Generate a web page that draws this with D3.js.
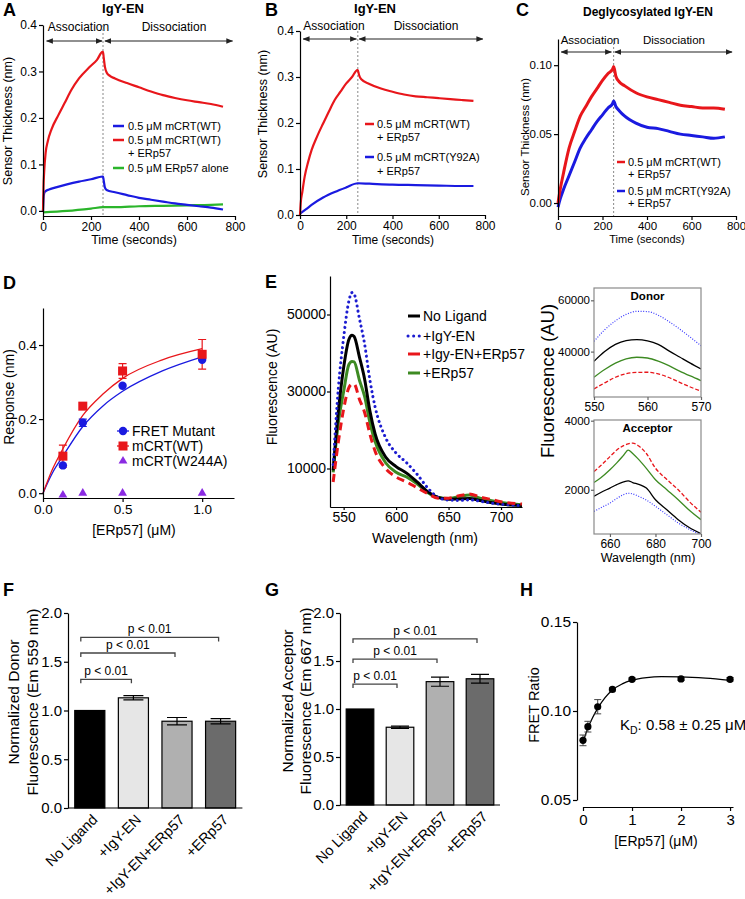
<!DOCTYPE html>
<html><head><meta charset="utf-8">
<script src="https://cdn.jsdelivr.net/npm/d3@7"></script>
<style>body{margin:0;background:#fff}svg{display:block}</style>
</head><body><svg id="c" width="745" height="899"></svg>
<script>
const FONT = "'Liberation Sans', Arial, Helvetica, sans-serif";
// ---------- DATA ----------
// Panel A (IgY-EN)
const aRedT = [0,2,5,11,20,35,63,90,118,150,195,225,248,250,253,258,265,280,300,350,400,450,500,550,600,650,700,750];
const aRedV = [0,0.05,0.085,0.125,0.15,0.175,0.205,0.232,0.26,0.285,0.31,0.325,0.342,0.342,0.33,0.31,0.298,0.29,0.285,0.275,0.266,0.257,0.249,0.243,0.238,0.234,0.23,0.224];
const aBlueT = [0,2,5,10,25,50,100,150,200,248,250,253,258,265,300,350,400,450,500,550,600,650,700,750];
const aBlueV = [0,0.025,0.038,0.042,0.046,0.05,0.057,0.063,0.068,0.074,0.074,0.065,0.05,0.045,0.04,0.034,0.028,0.024,0.02,0.016,0.013,0.01,0.007,0.003];
const aGreenT = [0,100,200,250,300,400,500,600,700,750];
const aGreenV = [-0.003,0,0.005,0.008,0.008,0.01,0.011,0.012,0.013,0.014];
// Panel B
const bRedT = [0,3,10,20,35,50,75,100,125,150,175,200,225,248,250,255,265,300,350,400,450,500,550,600,650,700,750];
const bRedV = [0,0.025,0.05,0.083,0.115,0.141,0.172,0.199,0.225,0.25,0.268,0.286,0.3,0.315,0.315,0.305,0.295,0.285,0.275,0.268,0.262,0.258,0.256,0.254,0.252,0.25,0.248];
const bBlueT = [0,25,50,100,150,200,250,300,400,500,600,700,750];
const bBlueV = [0.003,0.012,0.022,0.038,0.05,0.06,0.069,0.068,0.066,0.065,0.064,0.063,0.063];
// Panel C
const cT = [0,10,25,50,75,100,125,150,175,200,225,245,250,260,275,300,350,400,450,500,550,600,650,700,750];
const cRedV = [0,0.01,0.022,0.04,0.052,0.063,0.07,0.077,0.083,0.089,0.094,0.097,0.099,0.092,0.088,0.085,0.08,0.077,0.075,0.073,0.071,0.07,0.069,0.069,0.068];
const cBlueV = [-0.003,0.003,0.01,0.02,0.03,0.04,0.047,0.053,0.059,0.064,0.069,0.072,0.074,0.07,0.067,0.063,0.058,0.055,0.054,0.052,0.05,0.049,0.048,0.047,0.048];
// Panel D
const dConc = [0.125,0.25,0.5,1.0];
const dFret = [0.075,0.19,0.29,0.36];
const dFretErr = [0,0.01,0,0];
const dWT = [0.10,0.235,0.33,0.375];
const dWTErr = [0.03,0,0.02,0.04];
const dW244A = [-0.005,0,0,0];
const dFitX = [0,0.06,0.125,0.25,0.375,0.5,0.75,1.0];
const dFitWT = [0,0.065,0.12,0.21,0.267,0.31,0.36,0.39];
const dFitFret = [0,0.055,0.10,0.18,0.235,0.275,0.33,0.368];
// Panel E main spectra
const eWl = [540,545,550,555,558,560,565,570,575,580,590,600,610,620,630,640,650,660,670,680,690,700,710,720];
const eNoLig = [9500,25000,36200,43500,44600,44300,39000,33200,25000,19000,13000,10500,8800,6500,4000,2500,2000,2100,2200,1700,1150,750,500,400];
const eIgY = [11000,31000,44000,53500,55700,55300,49000,42300,33000,26000,18000,14000,11500,8500,5000,2500,1800,1700,1850,1500,1050,700,500,350];
const eIgYERp = [6500,17000,25450,31000,31900,31900,28000,24550,19000,14500,10000,7800,6500,5000,3500,2300,2300,2900,3350,2600,2000,1350,1000,750];
const eERp = [9000,22000,30000,37000,37800,37700,33000,28700,22000,17000,11500,9000,7800,6000,3800,2500,2200,2700,3100,2300,1700,1150,800,600];
const eLegend = ["No Ligand","+IgY-EN","+Igy-EN+ERp57","+ERp57"];
// Donor inset
const donWl = [550,552,554,556,558,560,562,564,566,568,570];
const donNoLig = [36200,40000,42800,44300,44700,44200,42800,40300,37900,35500,33200];
const donIgY = [44000,48500,52000,54500,55700,55600,54200,51700,48800,45600,42300];
const donIgYERp = [25450,27800,30000,31400,31900,31950,31300,29900,28000,26200,24550];
const donERp = [30000,33000,35500,37200,37800,37500,36300,34500,32400,30500,28700];
// Acceptor inset
const accWl = [653,656,660,663,666,668,670,673,676,680,685,690,695,700];
const accNoLig = [1810,1920,2050,2150,2230,2260,2210,2150,2050,1710,1420,1135,900,730];
const accIgY = [1375,1480,1615,1750,1860,1900,1880,1800,1700,1520,1280,1040,850,700];
const accIgYERp = [2530,2700,2960,3150,3280,3330,3350,3250,3050,2625,2300,2000,1650,1350];
const accERp = [2210,2350,2580,2780,3000,3150,3050,2850,2620,2290,2000,1710,1400,1135];
// Panels F, G
const barCats = ["No Ligand","+IgY-EN","+IgY-EN+ERp57","+ERp57"];
const fVals = [1.0,1.13,0.89,0.89];
const fErr = [0,0.022,0.038,0.027];
const gVals = [1.0,0.81,1.285,1.315];
const gErr = [0,0.012,0.048,0.045];
const fSig = [1.32,1.59,1.75];
const gSig = [1.26,1.52,1.73];
const sigLabel = "p < 0.01";
// Panel H
const hConc = [0,0.1,0.3,0.6,1,2,3];
const hRatio = [0.0835,0.0912,0.1024,0.1121,0.1178,0.118,0.1178];
const hErr = [0.003,0.003,0.004,0.0008,0.0008,0.0008,0.001];
const hFitX = [0,0.1,0.2,0.3,0.45,0.6,0.8,1,1.3,1.6,2,2.5,3];
const hFitY = [0.0825,0.0905,0.0965,0.1015,0.1075,0.1118,0.1152,0.1173,0.1188,0.1193,0.1192,0.1185,0.1172];

// ---------- HELPERS ----------
const svg = d3.select('#c');
const RED = '#e8161b', BLUE = '#1a1ae0', GREEN = '#2bb52b', EGREEN = '#3d8a22', PURPLE = '#8a2be2';

function styleAxis(a, fs){
  a.selectAll('path.domain').attr('stroke','#000').attr('stroke-width',1.2);
  a.selectAll('.tick line').attr('stroke','#000').attr('stroke-width',1.2);
  a.selectAll('text').attr('font-size',fs).attr('fill','#000').attr('font-family',FONT);
}
function yAxis(x0, y, ticks, fmt, fs, size=4, pad=2){
  const a = svg.append('g').attr('transform',`translate(${x0},0)`)
    .call(d3.axisLeft(y).tickValues(ticks).tickFormat(fmt).tickSize(size).tickSizeOuter(0).tickPadding(pad));
  styleAxis(a, fs); return a;
}
function xAxis(y0, x, ticks, fmt, fs, size=4, pad=2){
  const a = svg.append('g').attr('transform',`translate(0,${y0})`)
    .call(d3.axisBottom(x).tickValues(ticks).tickFormat(fmt).tickSize(size).tickSizeOuter(0).tickPadding(pad));
  styleAxis(a, fs); return a;
}
function text(x, y, s, fs, opts={}){
  const t = svg.append('text').attr('x',x).attr('y',y).text(s)
    .attr('font-family',FONT).attr('font-size',fs).attr('fill',opts.fill||'#000')
    .attr('text-anchor',opts.anchor||'start').attr('dominant-baseline',opts.base||'central');
  if(opts.bold) t.attr('font-weight','bold');
  return t;
}
function vtext(cx, cy, s, fs){
  return svg.append('text').attr('transform',`translate(${cx},${cy}) rotate(-90)`).text(s)
    .attr('font-family',FONT).attr('font-size',fs).attr('text-anchor','middle').attr('dominant-baseline','central');
}
function series(xs, ys){ return xs.map((d,i)=>[d, ys[i]]); }
function drawLine(data, x, y, color, w, dash, curve){
  const p = svg.append('path').datum(data)
    .attr('d', d3.line().x(d=>x(d[0])).y(d=>y(d[1])).curve(curve||d3.curveLinear))
    .attr('fill','none').attr('stroke',color).attr('stroke-width',w).attr('stroke-linejoin','round');
  if(dash){ p.attr('stroke-dasharray',dash); if(dash.startsWith('0.1')) p.attr('stroke-linecap','round'); }
  return p;
}
const defs = svg.append('defs');
defs.append('marker').attr('id','ah').attr('viewBox','0 0 10 10').attr('refX',9).attr('refY',5)
  .attr('markerWidth',7).attr('markerHeight',7).attr('markerUnits','userSpaceOnUse').attr('orient','auto-start-reverse')
  .append('path').attr('d','M0,1 L10,5 L0,9 Z').attr('fill','#222');

function kinetics(x, y, arrowY, textY, assoc, dissoc, assocC, dissocC, fs){
  [assoc, dissoc].forEach(r=>{
    svg.append('line').attr('x1',x(r[0])).attr('x2',x(r[1])).attr('y1',arrowY).attr('y2',arrowY)
      .attr('stroke','#222').attr('stroke-width',1.2).attr('marker-start','url(#ah)').attr('marker-end','url(#ah)');
  });
  text(x(assocC), textY, 'Association', fs, {anchor:'middle'});
  text(x(dissocC), textY, 'Dissociation', fs, {anchor:'middle'});
  svg.append('line').attr('x1',x(250)).attr('x2',x(250)).attr('y1',y.range()[1]).attr('y2',y.range()[0])
    .attr('stroke','#888').attr('stroke-width',1).attr('stroke-dasharray','2,2');
}
function legendLine(x1,x2,y,color,w,dash){
  const l = svg.append('line').attr('x1',x1).attr('x2',x2).attr('y1',y).attr('y2',y).attr('stroke',color).attr('stroke-width',w);
  if(dash){ l.attr('stroke-dasharray',dash); if(dash.startsWith('0.1')) l.attr('stroke-linecap','round'); }
}
const KC = d3.curveMonotoneX;

// ---------- PANEL A ----------
{
  const x = d3.scaleLinear([0,800],[43,235]);
  const y = d3.scaleLinear([-0.011,0.4],[216,25]);
  kinetics(x, y, 41, 27, [15,246],[258,790], 148, 546, 12);
  drawLine(series(aGreenT,aGreenV), x, y, GREEN, 2.2, null, KC);
  drawLine(series(aBlueT,aBlueV), x, y, BLUE, 2.2, null, KC);
  drawLine(series(aRedT,aRedV), x, y, RED, 2.2, null, KC);
  yAxis(43, y, [0,0.1,0.2,0.3,0.4], d3.format('.1f'), 12);
  xAxis(216, x, [0,200,400,600,800], d3.format('d'), 12);
  text(134, 240, 'Time (seconds)', 12.5, {anchor:'middle'});
  vtext(8, 121, 'Sensor Thickness (nm)', 12.5);
  text(123, 8, 'IgY-EN', 13, {anchor:'middle', bold:true});
  text(3, 10, 'A', 18, {bold:true});
  legendLine(113,124,126,BLUE,2.5); text(128,126,'0.5 μM mCRT(WT)',11);
  legendLine(113,124,140,RED,2.5); text(128,140,'0.5 μM mCRT(WT)',11); text(128,153,'+ ERp57',11);
  legendLine(113,124,168,GREEN,2.5); text(128,168,'0.5 μM ERp57 alone',11);
}
// ---------- PANEL B ----------
{
  const x = d3.scaleLinear([0,800],[300,485]);
  const y = d3.scaleLinear([0,0.4],[215,31]);
  kinetics(x, y, 39, 26, [14,244],[256,790], 147, 545, 12);
  drawLine(series(bBlueT,bBlueV), x, y, BLUE, 2.2, null, KC);
  drawLine(series(bRedT,bRedV), x, y, RED, 2.2, null, KC);
  yAxis(300, y, [0,0.1,0.2,0.3,0.4], d3.format('.1f'), 12);
  xAxis(215, x, [0,200,400,600,800], d3.format('d'), 12);
  text(393, 240, 'Time (seconds)', 12, {anchor:'middle'});
  vtext(263, 114, 'Sensor Thickness (nm)', 12.5);
  text(375, 8, 'IgY-EN', 13, {anchor:'middle', bold:true});
  text(265, 10, 'B', 18, {bold:true});
  legendLine(365,374,124,RED,2.5); text(377,124,'0.5 μM mCRT(WT)',11); text(377,137,'+ ERp57',11);
  legendLine(365,374,157,BLUE,2.5); text(377,157,'0.5 μM mCRT(Y92A)',11); text(377,171,'+ ERp57',11);
}
// ---------- PANEL C ----------
{
  const x = d3.scaleLinear([0,800],[558,736]);
  const y = d3.scaleLinear([-0.0094,0.119],[216,39]);
  kinetics(x, y, 52, 40, [15,240],[255,782], 144, 521, 11.5);
  drawLine(series(cT,cBlueV), x, y, BLUE, 3, null, KC);
  drawLine(series(cT,cRedV), x, y, RED, 3, null, KC);
  yAxis(558, y, [0,0.05,0.1], d3.format('.2f'), 11.5);
  xAxis(216, x, [0,200,400,600,800], d3.format('d'), 11.5);
  text(647, 239, 'Time (seconds)', 11, {anchor:'middle'});
  vtext(525, 137, 'Sensor Thickness (nm)', 11.5);
  text(648, 12, 'Deglycosylated IgY-EN', 12, {anchor:'middle', bold:true});
  text(516, 10, 'C', 18, {bold:true});
  legendLine(617,625,162,RED,2.5); text(628,162,'0.5 μM mCRT(WT)',11); text(628,174,'+ ERp57',11);
  legendLine(617,625,191,BLUE,2.5); text(628,191,'0.5 μM mCRT(Y92A)',11); text(628,203,'+ ERp57',11);
}
// ---------- PANEL D ----------
{
  const x = d3.scaleLinear([0,1.2],[43,234]);
  const y = d3.scaleLinear([-0.013,0.5],[498,308]);
  drawLine(series(dFitX,dFitFret), x, y, BLUE, 1.3, null, d3.curveMonotoneX);
  drawLine(series(dFitX,dFitWT), x, y, RED, 1.3, null, d3.curveMonotoneX);
  const eb = (vals, errs, color) => vals.forEach((v,i)=>{ if(!errs[i]) return;
    const cx = x(dConc[i]);
    svg.append('path').attr('d',`M${cx-4},${y(v+errs[i])}H${cx+4}M${cx},${y(v+errs[i])}V${y(v-errs[i])}M${cx-4},${y(v-errs[i])}H${cx+4}`)
      .attr('stroke',color).attr('stroke-width',1.2).attr('fill','none');});
  eb(dWT, dWTErr, RED); eb(dFret, dFretErr, BLUE);
  dConc.forEach((c,i)=>{
    svg.append('circle').attr('cx',x(c)).attr('cy',y(dFret[i])).attr('r',4.2).attr('fill',BLUE);
    svg.append('rect').attr('x',x(c)-4.5).attr('y',y(dWT[i])-4.5).attr('width',9).attr('height',9).attr('fill',RED);
    svg.append('path').attr('d',d3.symbol(d3.symbolTriangle,34)()).attr('transform',`translate(${x(c)},${y(dW244A[i])})`).attr('fill',PURPLE);
  });
  yAxis(43, y, [0,0.2,0.4], d3.format('.1f'), 13.5);
  xAxis(498, x, [0,0.5,1.0], d3.format('.1f'), 13.5);
  text(134, 530, '[ERp57] (μM)', 14, {anchor:'middle'});
  vtext(9, 397, 'Response (nm)', 14);
  text(3, 283, 'D', 18, {bold:true});
  svg.append('line').attr('x1',117).attr('x2',129).attr('y1',431).attr('y2',431).attr('stroke',BLUE).attr('stroke-width',1.3);
  svg.append('circle').attr('cx',123).attr('cy',431).attr('r',4.2).attr('fill',BLUE);
  text(132,431,'FRET Mutant',14);
  svg.append('line').attr('x1',117).attr('x2',129).attr('y1',446).attr('y2',446).attr('stroke',RED).attr('stroke-width',1.3);
  svg.append('rect').attr('x',118.5).attr('y',441.5).attr('width',9).attr('height',9).attr('fill',RED);
  text(132,446,'mCRT(WT)',14);
  svg.append('path').attr('d',d3.symbol(d3.symbolTriangle,34)()).attr('transform','translate(123,461)').attr('fill',PURPLE);
  text(132,461,'mCRT(W244A)',14);
}
// ---------- PANEL E (main) ----------
const eSeries = [
  {v:eNoLig, c:'#000', dash:null},
  {v:eIgY, c:'#1c1cd0', dash:'0.1,5'},
  {v:eIgYERp, c:RED, dash:'8,5'},
  {v:eERp, c:EGREEN, dash:null}
];
{
  const x = d3.scaleLinear([537,720],[330,522]);
  const y = d3.scaleLinear([0,60000],[507,276]);
  [3,0,1,2].forEach(i=>{ const s=eSeries[i]; drawLine(series(eWl,s.v), x, y, s.c, 3, s.dash, d3.curveMonotoneX); });
  yAxis(330, y, [10000,30000,50000], d3.format('d'), 14, 3, 1);
  xAxis(507, x, [550,600,650,700], d3.format('d'), 14, 3, 2);
  text(425, 538, 'Wavelength (nm)', 14, {anchor:'middle'});
  vtext(272, 387, 'Fluorescence (AU)', 14);
  text(265, 282, 'E', 18, {bold:true});
  const ly = [316,336,354,373];
  eSeries.forEach((s,i)=>{
    legendLine(408,420,ly[i],s.c,3, s.dash==='0.1,5' ? '0.1,5.5' : (s.dash? '12,0': null));
    text(423, ly[i], eLegend[i], 14);
  });
}
// ---------- Insets ----------
function inset(x, y, wl, sets, xt, yt, title, titleY){
  const [x0,x1] = x.range(), [yb,yt0] = y.range();
  const clipId = 'clip'+title;
  defs.append('clipPath').attr('id',clipId).append('rect').attr('x',x0).attr('y',yt0).attr('width',x1-x0).attr('height',yb-yt0);
  const g = svg.append('g').attr('clip-path',`url(#${clipId})`);
  sets.forEach(s=>{
    const p = g.append('path').datum(series(wl,s.v)).attr('d',d3.line().x(d=>x(d[0])).y(d=>y(d[1])).curve(d3.curveMonotoneX))
      .attr('fill','none').attr('stroke',s.c).attr('stroke-width',s.w);
    if(s.dash) p.attr('stroke-dasharray',s.dash);
  });
  svg.append('rect').attr('x',x0).attr('y',yt0).attr('width',x1-x0).attr('height',yb-yt0).attr('fill','none').attr('stroke','#8a8a8a').attr('stroke-width',1.2);
  const ay = svg.append('g').attr('transform',`translate(${x0},0)`).call(d3.axisLeft(y).tickValues(yt).tickFormat(d3.format('d')).tickSize(3).tickSizeOuter(0).tickPadding(1));
  styleAxis(ay, 11.5); ay.select('path.domain').remove(); ay.selectAll('.tick line').attr('stroke','#666');
  const ax = svg.append('g').attr('transform',`translate(0,${yb})`).call(d3.axisBottom(x).tickValues(xt).tickFormat(d3.format('d')).tickSize(3).tickSizeOuter(0).tickPadding(2));
  styleAxis(ax, 12); ax.select('path.domain').remove(); ax.selectAll('.tick line').attr('stroke','#666');
  text((x0+x1)/2, titleY, title, 11.5, {anchor:'middle', bold:true});
}
{
  const xD = d3.scaleLinear([550,570],[594,701]);
  const yD = d3.scaleLinear([22300,64800],[397,288]);
  inset(xD, yD, donWl, [
    {v:donIgYERp, c:RED, w:1.3, dash:'4,2'},
    {v:donERp, c:EGREEN, w:1.3},
    {v:donNoLig, c:'#000', w:1.3},
    {v:donIgY, c:'#3a3aff', w:1.2, dash:'1,1.6'}
  ], [550,560,570], [40000,60000], 'Donor', 296);
  const xA = d3.scaleLinear([653,700],[594,701]);
  const yA = d3.scaleLinear([720,4020],[534,420]);
  inset(xA, yA, accWl, [
    {v:accIgYERp, c:RED, w:1.3, dash:'4,2'},
    {v:accERp, c:EGREEN, w:1.3},
    {v:accNoLig, c:'#000', w:1.3},
    {v:accIgY, c:'#3a3aff', w:1.2, dash:'1,1.6'}
  ], [660,680,700], [2000,4000], 'Acceptor', 428);
  text(648, 558, 'Wavelength (nm)', 12.5, {anchor:'middle'});
  vtext(547, 381, 'Fluorescence (AU)', 18.5);
}
// ---------- Bar panels ----------
const barFill = ['#000000','#e6e6e6','#b0b0b0','#6b6b6b'];
function barPanel(x0, x1, y0, yTop, vals, errs, sig, sigL, sigR, capW, lblX, lbl1, lbl2, lblCY, letterX){
  const x = d3.scaleBand(barCats,[x0,x1]).paddingInner(0.31).paddingOuter(0.155);
  const y = d3.scaleLinear([0,2],[y0,yTop]);
  vals.forEach((v,i)=>{
    svg.append('rect').attr('x',x(barCats[i])).attr('y',y(v)).attr('width',x.bandwidth()).attr('height',y(0)-y(v))
      .attr('fill',barFill[i]).attr('stroke','#000').attr('stroke-width',1.2);
    if(errs[i]){
      const cx = x(barCats[i])+x.bandwidth()/2;
      svg.append('path').attr('d',`M${cx-capW/2},${y(v+errs[i])}H${cx+capW/2}M${cx},${y(v+errs[i])}V${y(v-errs[i])}M${cx-capW/2},${y(v-errs[i])}H${cx+capW/2}`)
        .attr('stroke','#000').attr('stroke-width',1.2).attr('fill','none');
    }
  });
  const c = i => x(barCats[i])+x.bandwidth()/2;
  sig.forEach((s,k)=>{
    const xl = c(0)+sigL, xr = c(k+1)+sigR, yy = y(s);
    svg.append('path').attr('d',`M${xl},${yy+4}V${yy}H${xr}V${yy+4}`).attr('fill','none').attr('stroke','#444').attr('stroke-width',1.3);
    text((xl+xr)/2, yy-8, sigLabel, 12, {anchor:'middle'});
  });
  yAxis(x0, y, [0,0.5,1,1.5,2], d3.format('.1f'), 15, 4, 2);
  svg.append('line').attr('x1',x0).attr('x2',x1).attr('y1',y0).attr('y2',y0).attr('stroke','#000').attr('stroke-width',1.2);
  barCats.forEach((b,i)=>{
    svg.append('text').attr('transform',`translate(${c(i)+5},${y0+9}) rotate(-45)`).text(b)
      .attr('font-family',FONT).attr('font-size',14.5).attr('text-anchor','end').attr('dominant-baseline','central');
  });
  vtext(lblX[0], lblCY, lbl1, 15.5); vtext(lblX[1], lblCY, lbl2, 15.5);
  text(letterX, 590, letterX<100?'F':'G', 18, {bold:true});
}
barPanel(68, 242.4, 808, 613, fVals, fErr, fSig, -9, -2, 20, [13,32], 'Normalized Donor', 'Fluorescence (Em 559 nm)', 702, 3);
barPanel(340, 500, 805, 613, gVals, gErr, gSig, -7, -3, 18, [287,305], 'Normalized Acceptor', 'Fluorescence (Em 667 nm)', 701, 265);
// ---------- PANEL H ----------
{
  const x = d3.scaleLinear([0,3.06],[583,733]);
  const y = d3.scaleLinear([0.05,0.15],[800,622]);
  drawLine(series(hFitX,hFitY), x, y, '#000', 1.3, null, d3.curveMonotoneX);
  hConc.forEach((c,i)=>{
    const cx = x(c);
    svg.append('path').attr('d',`M${cx-3.5},${y(hRatio[i]+hErr[i])}H${cx+3.5}M${cx},${y(hRatio[i]+hErr[i])}V${y(hRatio[i]-hErr[i])}M${cx-3.5},${y(hRatio[i]-hErr[i])}H${cx+3.5}`)
      .attr('stroke','#444').attr('stroke-width',1).attr('fill','none');
    svg.append('circle').attr('cx',cx).attr('cy',y(hRatio[i])).attr('r',3.6).attr('fill','#000');
  });
  yAxis(577, y, [0.05,0.1,0.15], d3.format('.2f'), 15.5, 4, 2);
  xAxis(807, x, [0,1,2,3], d3.format('d'), 15, 4, 3);
  text(656, 841, '[ERp57] (μM)', 14, {anchor:'middle'});
  vtext(534, 705, 'FRET Ratio', 14.5);
  const kt = svg.append('text').attr('x',620).attr('y',730).attr('font-family',FONT).attr('font-size',15);
  kt.append('tspan').text('K');
  kt.append('tspan').text('D').attr('font-size',10.5).attr('dy',4);
  kt.append('tspan').text(': 0.58 ± 0.25 μM').attr('dy',-4);
  text(520, 590, 'H', 18, {bold:true});
}
</script></body></html>
